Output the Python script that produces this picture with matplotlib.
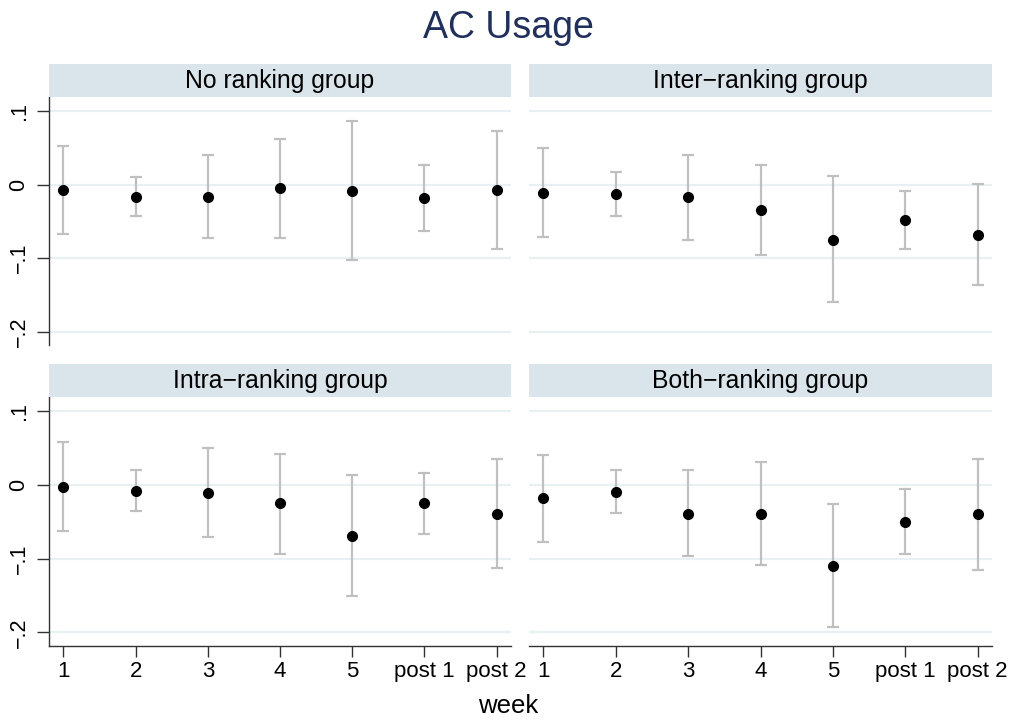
import matplotlib
matplotlib.use("Agg")
import matplotlib.pyplot as plt

plt.rcParams['font.family'] = ['Liberation Sans', 'DejaVu Sans']

weeks = ["1", "2", "3", "4", "5", "post 1", "post 2"]
groups = ["No ranking group", "Inter\u2212ranking group",
          "Intra\u2212ranking group", "Both\u2212ranking group"]

no_est = [-0.007, -0.016, -0.016, -0.005, -0.008, -0.018, -0.007]
no_lo = [-0.067, -0.043, -0.072, -0.073, -0.102, -0.063, -0.088]
no_hi = [0.053, 0.011, 0.040, 0.062, 0.087, 0.027, 0.073]

inter_est = [-0.011, -0.013, -0.017, -0.034, -0.075, -0.048, -0.068]
inter_lo = [-0.071, -0.042, -0.075, -0.096, -0.160, -0.088, -0.137]
inter_hi = [0.050, 0.017, 0.041, 0.027, 0.012, -0.008, 0.001]

intra_est = [-0.002, -0.008, -0.011, -0.025, -0.069, -0.025, -0.039]
intra_lo = [-0.062, -0.035, -0.071, -0.093, -0.151, -0.066, -0.112]
intra_hi = [0.059, 0.020, 0.050, 0.042, 0.013, 0.017, 0.035]

both_est = [-0.018, -0.009, -0.039, -0.039, -0.110, -0.050, -0.040]
both_lo = [-0.077, -0.038, -0.096, -0.108, -0.193, -0.094, -0.115]
both_hi = [0.041, 0.020, 0.020, 0.031, -0.026, -0.006, 0.035]

ytick_vals = [0.1, 0.0, -0.1, -0.2]
ytick_labels = [".1", "0", "\u2212.1", "\u2212.2"]

series = [(no_est, no_lo, no_hi), (inter_est, inter_lo, inter_hi),
          (intra_est, intra_lo, intra_hi), (both_est, both_lo, both_hi)]

W, H = 1016, 725
fig = plt.figure(figsize=(W / 100, H / 100), dpi=100)

def fx(px):
    return px / W

def fy(py):
    return 1 - py / H

cols = [(49, 511), (529, 992)]
rows = [(97, 345, 64), (397, 645.7, 364)]

strip_color = '#d9e5eb'
grid_color = '#e8f0f2'
err_color = '#c0c0c0'

x = list(range(1, len(weeks) + 1))

for i, (est, lo, hi) in enumerate(series):
    r, c = divmod(i, 2)
    x0, x1 = cols[c]
    ytop, ybot, stop = rows[r]
    ax = fig.add_axes([fx(x0), fy(ybot), fx(x1 - x0), (ybot - ytop) / H])
    sax = fig.add_axes([fx(x0), fy(ytop), fx(x1 - x0), (ytop - stop) / H])
    sax.set_facecolor(strip_color)
    for s in sax.spines.values():
        s.set_visible(False)
    sax.set_xticks([])
    sax.set_yticks([])
    sax.text(0.5, 0.48, groups[i], ha='center', va='center', fontsize=17.8,
             transform=sax.transAxes, color='black')

    yerr = [[e - l for e, l in zip(est, lo)], [h - e for e, h in zip(est, hi)]]
    ax.errorbar(x, est, yerr=yerr, fmt='none', ecolor=err_color,
                elinewidth=1.6, capsize=4.5, capthick=1.6, zorder=2)
    ax.plot(x, est, 'o', color='black', markersize=7, zorder=3)

    ax.set_xlim(0.8, 7.2)
    ax.set_ylim(-0.2181, 0.1195)
    ax.set_yticks(ytick_vals)
    ax.yaxis.grid(True, color=grid_color, linewidth=1.6)
    ax.set_axisbelow(True)
    for side in ['top', 'right']:
        ax.spines[side].set_visible(False)
    ax.spines['left'].set_color('#333333')
    ax.spines['bottom'].set_color('#333333')
    ax.spines['left'].set_linewidth(1.0)
    ax.spines['bottom'].set_linewidth(1.0)

    if c == 0:
        ax.set_yticklabels(ytick_labels, rotation=90, va='center', fontsize=15.5)
        ax.tick_params(axis='y', length=9, width=1.0, color='#333333', pad=5)
    else:
        ax.spines['left'].set_visible(False)
        ax.tick_params(axis='y', left=False, labelleft=False)

    ax.set_xticks(x)
    if r == 1:
        ax.set_xticklabels(weeks, fontsize=16)
        ax.tick_params(axis='x', length=8, width=1.0, color='#333333', pad=3)
    else:
        ax.spines['bottom'].set_visible(False)
        ax.tick_params(axis='x', bottom=False, labelbottom=False)

fig.text(0.5, fy(38.5), "AC Usage", ha='center', va='baseline', fontsize=27,
         color='#1f2f5e')
fig.text(fx(508), fy(713), "week", ha='center', va='baseline', fontsize=18.5,
         color='black')

fig.savefig("out.png", dpi=100, facecolor='white')
